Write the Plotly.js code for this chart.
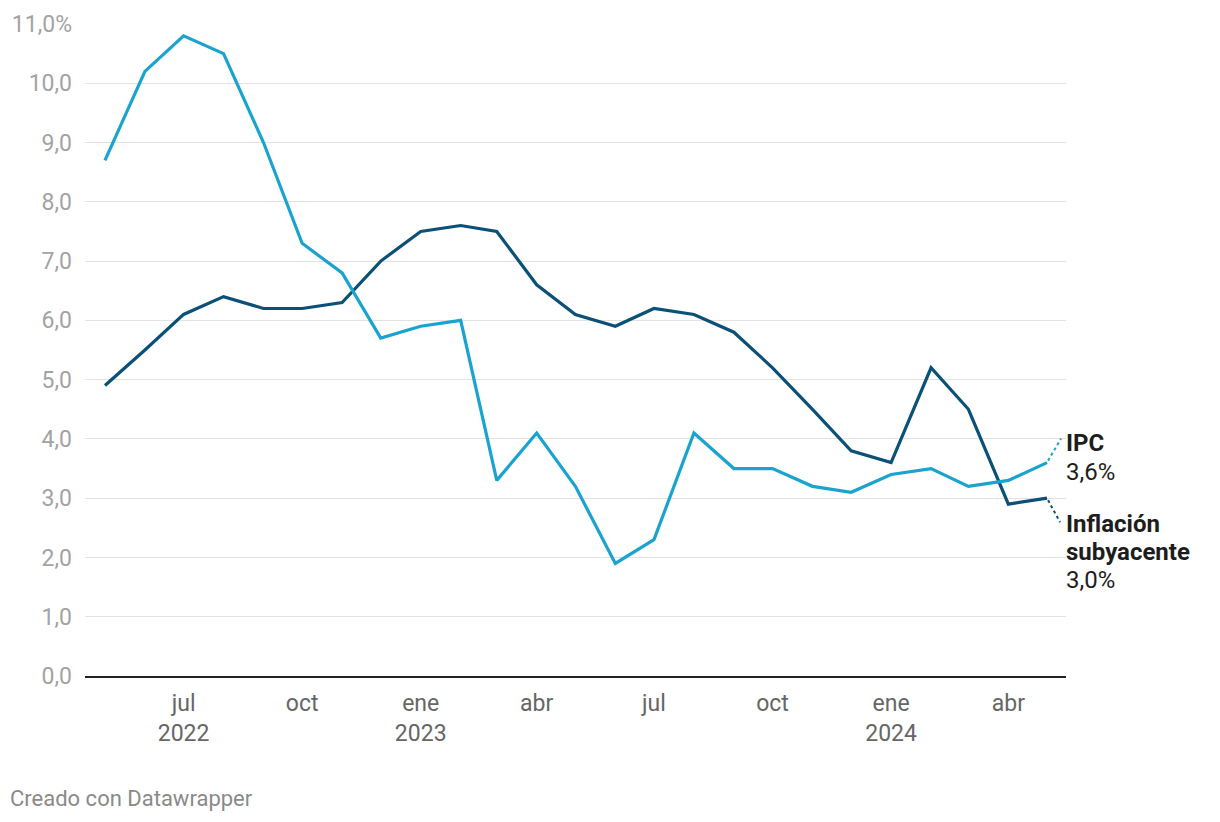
<!DOCTYPE html>
<html>
<head>
<meta charset="utf-8">
<script src="https://cdn.plot.ly/plotly-3.0.1.min.js"></script>
<style>
html,body{margin:0;padding:0;background:#fff;}
#chart{width:1220px;height:822px;}
</style>
</head>
<body>
<div id="chart"></div>
<script>
const months = ["2022-05-01","2022-06-01","2022-07-01","2022-08-01","2022-09-01","2022-10-01","2022-11-01","2022-12-01",
  "2023-01-01","2023-02-01","2023-03-01","2023-04-01","2023-05-01","2023-06-01","2023-07-01","2023-08-01",
  "2023-09-01","2023-10-01","2023-11-01","2023-12-01","2024-01-01","2024-02-01","2024-03-01","2024-04-01","2024-05-01"];
const ipc = [8.7,10.2,10.8,10.5,9.0,7.3,6.8,5.7,5.9,6.0,3.3,4.1,3.2,1.9,2.3,4.1,3.5,3.5,3.2,3.1,3.4,3.5,3.2,3.3,3.6];
const subyacente = [4.9,5.5,6.1,6.4,6.2,6.2,6.3,7.0,7.5,7.6,7.5,6.6,6.1,5.9,6.2,6.1,5.8,5.2,4.5,3.8,3.6,5.2,4.5,2.9,3.0];
const xTickVals = ["2022-07-01","2022-10-01","2023-01-01","2023-04-01","2023-07-01","2023-10-01","2024-01-01","2024-04-01"];
const xTickText = ["jul<br>2022","oct","ene<br>2023","abr","jul","oct","ene<br>2024","abr"];
const yTickVals = [0,1,2,3,4,5,6,7,8,9,10,11];
const yTickText = ["0,0","1,0","2,0","3,0","4,0","5,0","6,0","7,0","8,0","9,0","10,0","11,0%"];

const cLight = "#1aa3cf";
const cDark = "#0a5077";
const font = "Roboto, 'Noto Sans', sans-serif";

const traces = [
  {x: months, y: subyacente, type: "scatter", mode: "lines", name: "Inflación subyacente",
   line: {color: cDark, width: 3.2}, hoverinfo: "skip"},
  {x: months, y: ipc, type: "scatter", mode: "lines", name: "IPC",
   line: {color: cLight, width: 3.2}, hoverinfo: "skip"}
];

const lastX = months[months.length-1];
const lastIpc = ipc[ipc.length-1];
const lastSub = subyacente[subyacente.length-1];
const fmt = v => v.toFixed(1).replace(".", ",") + "%";

function label(text, yval, yshift, bold) {
  return {xref: "paper", yref: "y", x: 1, y: yval, xanchor: "left", yanchor: "middle",
    xshift: -2, yshift: yshift, align: "left", showarrow: false,
    text: bold ? "<b>" + text + "</b>" : text,
    font: {family: font, size: 24, color: "#1d1d1d"}};
}

const layout = {
  width: 1220, height: 822,
  margin: {l: 85, r: 154, t: 24, b: 146},
  paper_bgcolor: "#fff", plot_bgcolor: "#fff",
  showlegend: false,
  font: {family: font, size: 23, color: "#999"},
  xaxis: {
    type: "date",
    range: ["2022-04-15 12:00", "2024-05-15 17:00"],
    tickvals: xTickVals, ticktext: xTickText,
    showgrid: false, zeroline: false,
    showline: true, linecolor: "#222", linewidth: 2,
    ticks: "", ticklabelstandoff: 5,
    tickfont: {family: font, size: 23, color: "#666"},
    fixedrange: true
  },
  yaxis: {
    range: [0, 11],
    tickvals: yTickVals, ticktext: yTickText,
    showgrid: true, gridcolor: "#e2e2e2", gridwidth: 1,
    zeroline: false, showline: false, ticks: "",
    ticklabelstandoff: 12,
    tickfont: {family: font, size: 23, color: "#a3a3a3"},
    fixedrange: true
  },
  shapes: [
    {type: "line", xref: "x", yref: "y", xsizemode: "pixel", ysizemode: "pixel",
     xanchor: lastX, yanchor: lastIpc, x0: 1, y0: 2, x1: 14, y1: 24,
     line: {color: cLight, width: 2, dash: "dot"}},
    {type: "line", xref: "x", yref: "y", xsizemode: "pixel", ysizemode: "pixel",
     xanchor: lastX, yanchor: lastSub, x0: 1, y0: -2, x1: 13, y1: -24,
     line: {color: cDark, width: 2, dash: "dot"}}
  ],
  annotations: [
    label("IPC", lastIpc, 20, true),
    label(fmt(lastIpc), lastIpc, -9, false),
    label("Inflación", lastSub, -26, true),
    label("subyacente", lastSub, -54, true),
    label(fmt(lastSub), lastSub, -82, false),
    {xref: "paper", yref: "paper", x: 0, y: 0, xanchor: "left", yanchor: "middle",
     xshift: -77, yshift: -122, showarrow: false, align: "left",
     text: "Creado con Datawrapper", font: {family: font, size: 22, color: "#8a8a8a"}}
  ]
};

Plotly.newPlot("chart", traces, layout, {displayModeBar: false, staticPlot: true});
</script>
</body>
</html>
